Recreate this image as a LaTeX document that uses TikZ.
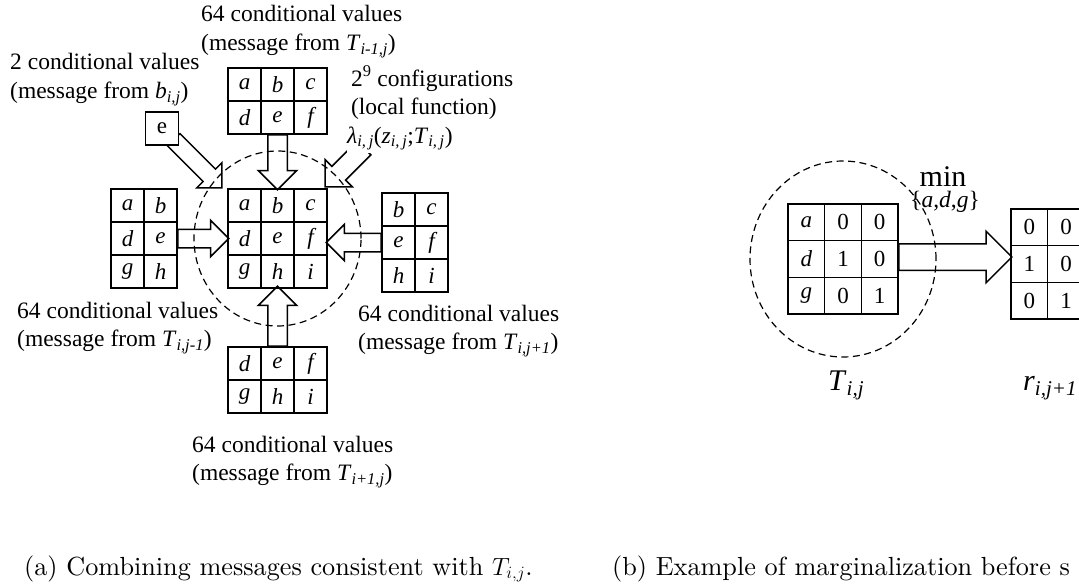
\documentclass[tikz,border=0pt]{standalone}
\usepackage{fontspec}
\newfontfamily\tnr{Liberation Serif}
\newfontfamily\capfont{lmroman10-regular.otf}
\usetikzlibrary{positioning, shapes.arrows, calc, backgrounds}

\newcommand{\idx}[2]{\textit{#1}\textsubscript{\textit{#2}}}

\begin{document}
\begin{tikzpicture}[x=1pt, y=-1pt,
    every node/.style={font=\tnr\fontsize{23.5}{28.5}\selectfont},
    cell/.style={draw, line width=1.6pt, minimum size=33pt, inner sep=0pt,
                 font=\tnr\fontsize{23}{23}\selectfont\itshape},
    bigcell/.style={cell, minimum size=36.7pt, font=\tnr\fontsize{23}{23}\selectfont},
    blk/.style={single arrow, draw, line width=1.5pt, inner xsep=0pt, inner ysep=9pt,
                outer sep=0pt, single arrow head extend=9.5pt, anchor=tail},
    region/.style={draw, dash pattern=on 7pt off 4.5pt, line width=1.2pt},
    lbl/.style={align=left, anchor=base west, inner sep=0pt}]
  \useasboundingbox (0,0) rectangle (1079,586);
  \clip (0,0) rectangle (1079,586);

  % (a) tables around T_{i,j}
  \foreach \t [count=\k from 0] in {a,b,c,d,e,f,g,h,i}
    \node[cell] (ctr-\t) at ({244.5+33*mod(\k,3)}, {205.5+33*int(\k/3)}) {\t};
  \foreach \t [count=\k from 0] in {a,b,c,d,e,f}
    \node[cell] (up-\t) at ({244.5+33*mod(\k,3)}, {84.5+33*int(\k/3)}) {\t};
  \foreach \t [count=\k from 0] in {d,e,f,g,h,i}
    \node[cell] (lo-\t) at ({244.5+33*mod(\k,3)}, {363.5+33*int(\k/3)}) {\t};
  \foreach \t [count=\k from 0] in {a,b,d,e,g,h}
    \node[cell] (lf-\t) at ({127.5+33*mod(\k,2)}, {205.5+33*int(\k/2)}) {\t};
  \foreach \t [count=\k from 0] in {b,c,e,f,h,i}
    \node[cell] (rt-\t) at ({398.5+33*mod(\k,2)}, {209.5+33*int(\k/2)}) {\t};
  \node[cell, fill=white, font=\tnr\fontsize{23}{23}\selectfont] (ebox) at (162,128.5) {e};

  % messages
  \node[blk, rotate=-90, minimum height=55pt] (ar-up) at (up-e.south) {};
  \node[blk, rotate=90, minimum height=60pt] (ar-lo) at (lo-e.north) {};
  \node[blk, minimum height=51pt, inner ysep=8.5pt, single arrow head extend=9pt] (ar-lf) at (lf-e.east) {};
  \node[blk, rotate=180, minimum height=55pt, inner ysep=8.5pt, single arrow head extend=9pt] (ar-rt) at (rt-e.west) {};

  \node[lbl] (msg-up) at (201,50.5) {64 conditional values\\(message from \idx{T}{i-1,j})};
  \node[lbl] (msg-b) at (10,98.5) {2 conditional values\\(message from \idx{b}{i,j})};
  \node[lbl, fill=white, inner ysep=3pt] (loc) at (347,143)
    {\,2\textsuperscript{9} configurations\\\,(local function)\\\textit{λ}\textsubscript{\textit{i,\,j}}(\textit{z}\textsubscript{\textit{i,\,j}};\textit{T}\textsubscript{\textit{i,\,j}})};
  \node[lbl] (msg-lf) at (17,346.5) {64 conditional values\\(message from \idx{T}{i,j-1})};
  \node[lbl] (msg-rt) at (358,349.5) {64 conditional values\\(message from \idx{T}{i,j+1})};
  \node[lbl] (msg-lo) at (192,480.5) {64 conditional values\\(message from \idx{T}{i+1,j})};

  \begin{scope}[on background layer]
    \coordinate (e-tail) at ($(ebox.south east)+(-5.5,-6)$);
    \node[blk, rotate=-45, minimum height=68pt, inner ysep=8pt, single arrow head extend=9pt] (ar-e) at (e-tail) {};
    \coordinate (lam-tail) at (364,148);
    \node[blk, rotate=225, minimum height=55pt] (ar-lam) at (lam-tail) {};
  \end{scope}

  \draw[region] (ctr-e) ellipse [x radius=83.5pt, y radius=87.5pt];

  % (b) marginalization
  \foreach \t [count=\k from 0] in {\textit{a},0,0,\textit{d},1,0,\textit{g},0,1}
    \node[bigcell] (tg-\k) at ({806.3+36.7*mod(\k,3)}, {222.3+36.7*int(\k/3)}) {\t};
  \foreach \t [count=\k from 0] in {0,0,1,0,0,1}
    \node[bigcell] (rg-\k) at ({1029.3+36.7*mod(\k,2)}, {227.3+36.7*int(\k/2)}) {\t};
  \node[blk, minimum height=113pt, inner ysep=12.5pt, single arrow head extend=12.5pt] (ar-min) at ($(tg-5.east)+(0,-2)$) {};
  \draw[region] (tg-4) ellipse [x radius=93pt, y radius=98pt];

  \node[anchor=base, inner sep=0pt, font=\tnr\fontsize{30}{30}\selectfont] (min) at (943,186) {min};
  \node[anchor=base, inner sep=0pt] (adg) at (945,207) {\{\textit{a},\textit{d},\textit{g}\}};
  \node[lbl, font=\tnr\fontsize{30}{30}\selectfont] (lab-t) at (828,390) {\idx{T}{i,j}};
  \node[lbl, font=\tnr\fontsize{30}{30}\selectfont] (lab-r) at (1023,390) {\idx{r}{i,j+1}};

  % captions
  \node[lbl, font=\capfont\fontsize{26.2}{30}\selectfont] (cap-a) at (24,575) {(a) Combining messages consistent with $T_{i,j}$.};
  \node[lbl, font=\capfont\fontsize{26.2}{30}\selectfont] (cap-b) at (612,575) {(b) Example of marginalization before s};
\end{tikzpicture}
\end{document}
